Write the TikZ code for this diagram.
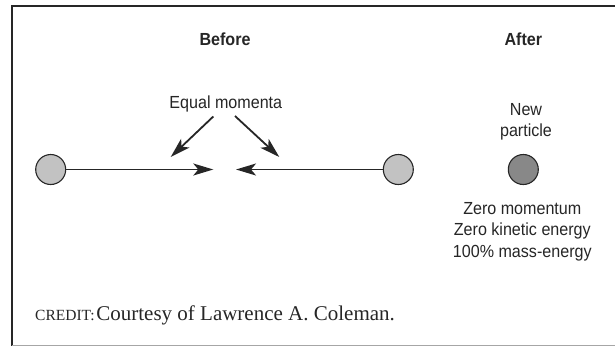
\documentclass[tikz,border=0pt]{standalone}
\usepackage{fontspec}
\setmainfont{Liberation Serif}
\newfontfamily\labfont[FakeStretch=0.92]{Liberation Sans}
\usetikzlibrary{arrows.meta}
\definecolor{lightball}{HTML}{C2C2C2}
\definecolor{darkball}{HTML}{888888}
\definecolor{inkcol}{HTML}{262626}
\tikzset{
  lab/.style={font=\labfont\fontsize{17.5}{21.5}\selectfont, text=inkcol, inner sep=0pt, anchor=base, align=center},
  title/.style={lab, font=\labfont\bfseries\fontsize{17.5}{21.5}\selectfont},
  ball/.style={circle, draw=inkcol, line width=1.1pt, minimum size=30pt, inner sep=0pt},
  arr/.style={draw=inkcol, line width=1.8pt, -{Stealth[length=20pt,width=12pt,inset=5pt]}},
}
\begin{document}
\begin{tikzpicture}[x=1pt,y=-1pt]
\useasboundingbox (0,0) rectangle (615,346);
% frame
\draw[inkcol, line width=2pt] (615,6) -- (12,6) -- (12,346);
\draw[gray!70, line width=0.8pt] (12,345.4) -- (615,345.4);
% titles
\node[title] (before) at (225,45) {Before};
\node[title] (after) at (523.3,45) {After};
% balls
\node[ball, fill=lightball] (L) at (50.7,169.5) {};
\node[ball, fill=lightball] (R) at (398.3,169.5) {};
\node[ball, fill=darkball] (N) at (523.3,169.5) {};
% horizontal arrows
\coordinate (tipL) at (213.3,169.5);
\coordinate (tipR) at (236,169.5);
\draw[arr] (L) -- (tipL);
\draw[arr] (R) -- (tipR);
% label and diagonal arrows
\node[lab] (eq) at (225.8,108.3) {Equal momenta};
\coordinate (dsL) at (213.3,116.5);
\coordinate (dtL) at (170.7,157);
\coordinate (dsR) at (235,116);
\coordinate (dtR) at (279.3,157);
\draw[arr] (dsL) -- (dtL);
\draw[arr] (dsR) -- (dtR);
% new particle (base = baseline of last line)
\node[lab] (np) at (526,136.5) {New\\particle};
\node[lab] (zero) at (522.3,257) {Zero momentum\\Zero kinetic energy\\100\% mass-energy};
% credit
\node[anchor=base west, inner sep=0pt, text=inkcol] (credit) at (35,320)
  {{\fontsize{15.5}{18}\selectfont CREDIT:}\,\fontsize{21}{24}\selectfont Courtesy of Lawrence A. Coleman.};
\end{tikzpicture}
\end{document}
